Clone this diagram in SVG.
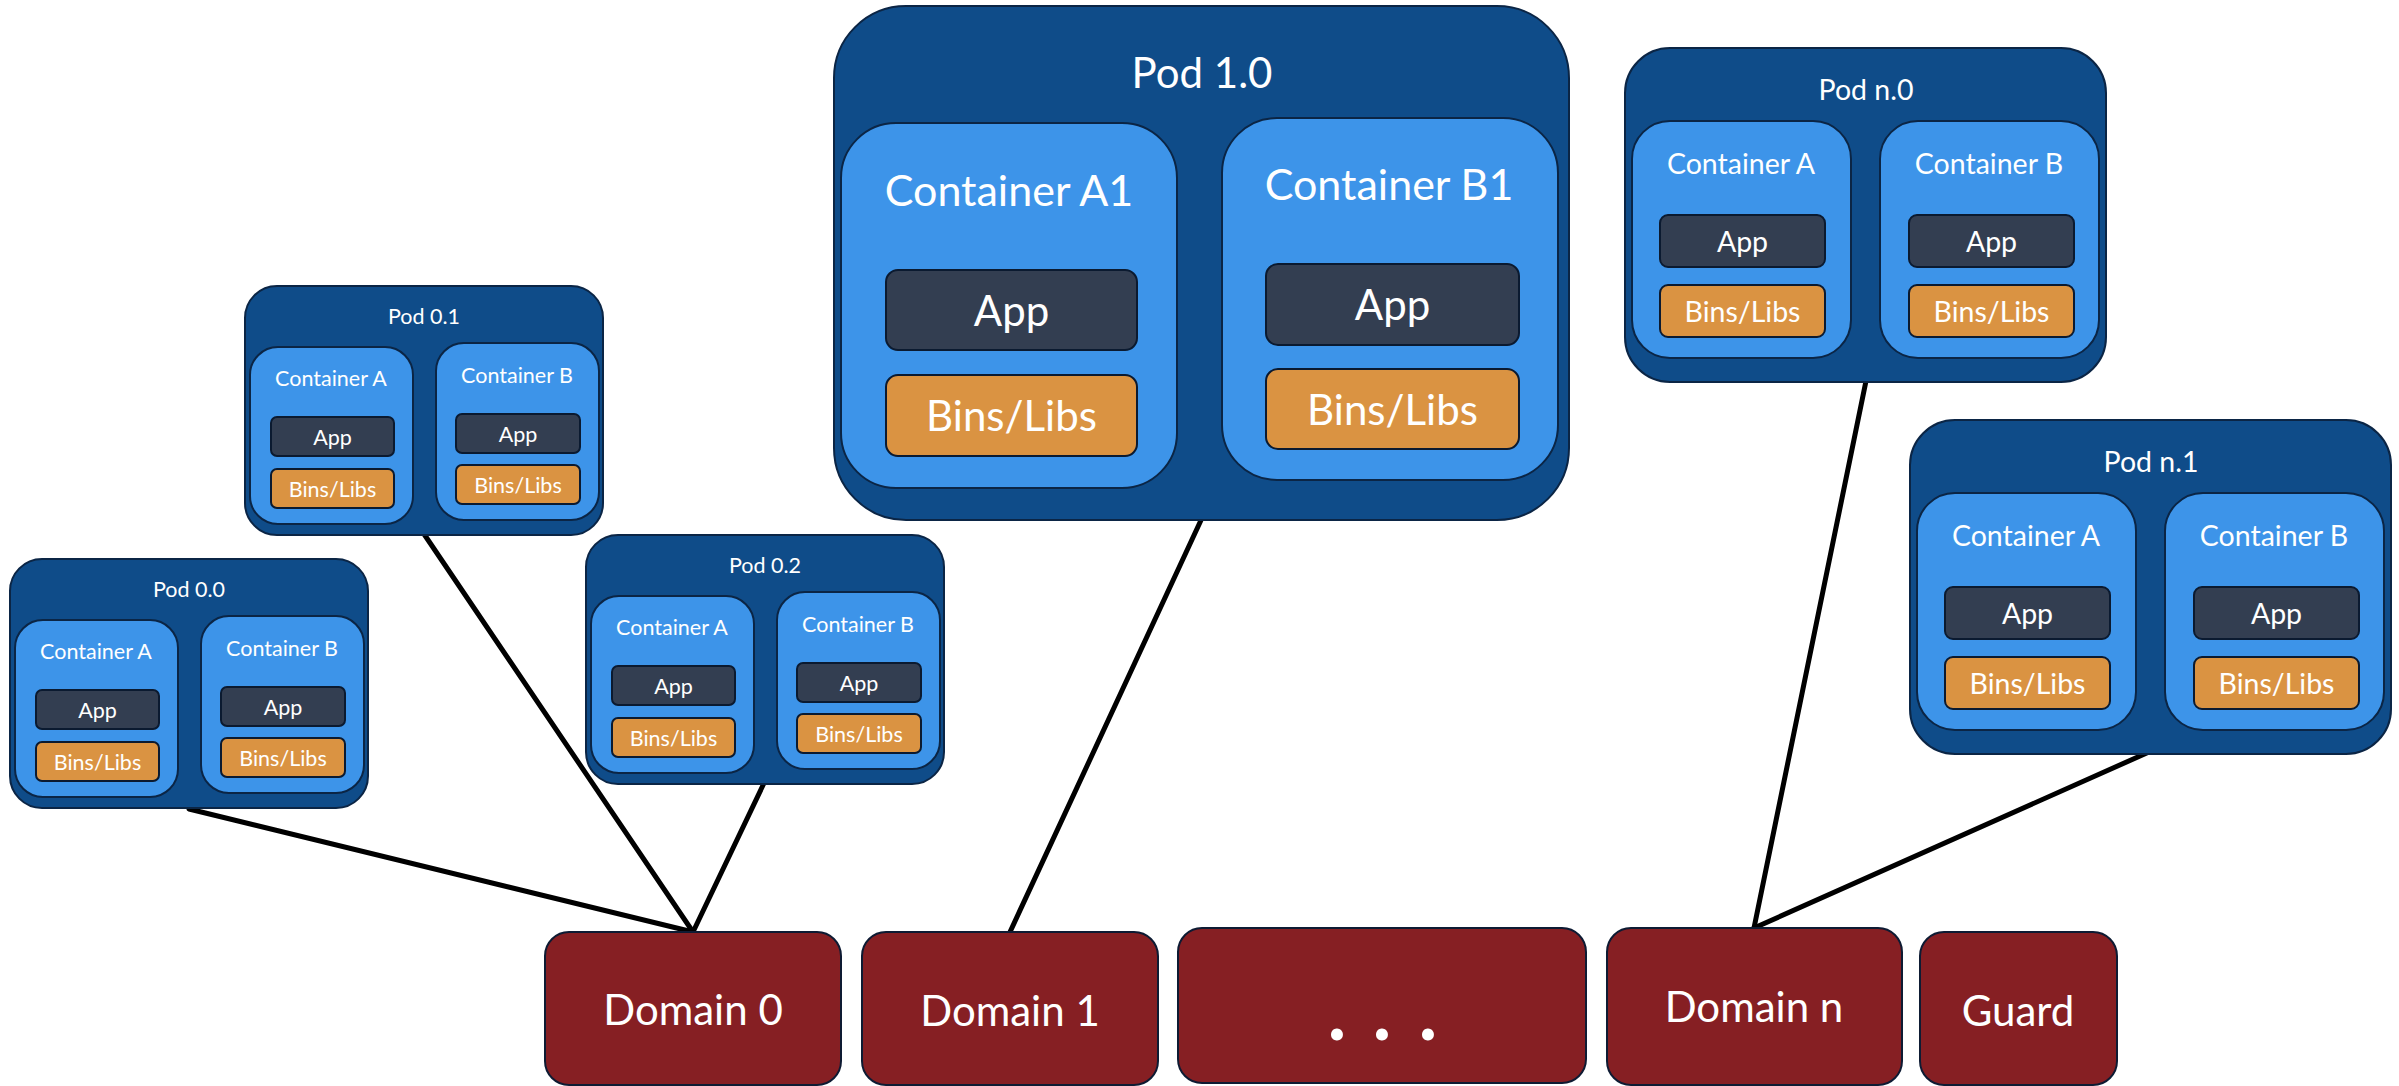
<svg xmlns="http://www.w3.org/2000/svg" width="2399" height="1086" viewBox="0 0 2399 1086">
  <style>
    .pod { fill: #0F4C89; stroke: #0B2545; stroke-width: 2; }
    .ctr { fill: #3D94E9; stroke: #0B2545; stroke-width: 2; }
    .app { fill: #333E51; stroke: #0B1A30; stroke-width: 2; }
    .bins { fill: #DA9342; stroke: #0B1A30; stroke-width: 2; }
    .dom { fill: #861F23; stroke: #0E1B33; stroke-width: 2; }
    .wire { stroke: #000; stroke-width: 5; fill: none; stroke-linecap: round; }
    text { font-family: Lato, "Open Sans", "Liberation Sans", sans-serif; fill: #FFFFFF; text-anchor: middle; }
    .s { font-size: 21.5px; }
    .m { font-size: 28.5px; }
    .l { font-size: 42px; }
    .xl { font-size: 43px; }
  </style>
  <rect width="2399" height="1086" fill="#FFFFFF"/>

  <!-- connectors: pods to their domains -->
  <g id="connectors">
    <line class="wire" x1="189" y1="809" x2="693" y2="932"/>
    <line class="wire" x1="424" y1="534" x2="693" y2="932"/>
    <line class="wire" x1="765" y1="781" x2="693" y2="932"/>
    <line class="wire" x1="1202" y1="518" x2="1010" y2="932"/>
    <line class="wire" x1="1866" y1="381" x2="1754" y2="928"/>
    <line class="wire" x1="2149" y1="752" x2="1754" y2="928"/>
  </g>

  <!-- small pods (domain 0) -->
  <g id="pod-0-1" transform="translate(245,286)">
    <rect class="pod" x="0" y="0" width="358" height="249" rx="32"/>
    <text class="s" x="179" y="38">Pod 0.1</text>
    <rect class="ctr" x="5" y="61" width="163" height="177" rx="28"/>
    <text class="s" x="86" y="100">Container A</text>
    <rect class="app" x="26" y="131" width="123" height="39" rx="6"/>
    <text class="s" x="87.5" y="159">App</text>
    <rect class="bins" x="26" y="183" width="123" height="39" rx="6"/>
    <text class="s" x="87.5" y="211">Bins/Libs</text>
    <rect class="ctr" x="191" y="57" width="163" height="177" rx="28"/>
    <text class="s" x="272" y="97">Container B</text>
    <rect class="app" x="211" y="128" width="124" height="39" rx="6"/>
    <text class="s" x="273" y="156">App</text>
    <rect class="bins" x="211" y="179" width="124" height="39" rx="6"/>
    <text class="s" x="273" y="207">Bins/Libs</text>
  </g>

  <g id="pod-0-0" transform="translate(10,559)">
    <rect class="pod" x="0" y="0" width="358" height="249" rx="32"/>
    <text class="s" x="179" y="38">Pod 0.0</text>
    <rect class="ctr" x="5" y="61" width="163" height="177" rx="28"/>
    <text class="s" x="86" y="100">Container A</text>
    <rect class="app" x="26" y="131" width="123" height="39" rx="6"/>
    <text class="s" x="87.5" y="159">App</text>
    <rect class="bins" x="26" y="183" width="123" height="39" rx="6"/>
    <text class="s" x="87.5" y="211">Bins/Libs</text>
    <rect class="ctr" x="191" y="57" width="163" height="177" rx="28"/>
    <text class="s" x="272" y="97">Container B</text>
    <rect class="app" x="211" y="128" width="124" height="39" rx="6"/>
    <text class="s" x="273" y="156">App</text>
    <rect class="bins" x="211" y="179" width="124" height="39" rx="6"/>
    <text class="s" x="273" y="207">Bins/Libs</text>
  </g>

  <g id="pod-0-2" transform="translate(586,535)">
    <rect class="pod" x="0" y="0" width="358" height="249" rx="32"/>
    <text class="s" x="179" y="38">Pod 0.2</text>
    <rect class="ctr" x="5" y="61" width="163" height="177" rx="28"/>
    <text class="s" x="86" y="100">Container A</text>
    <rect class="app" x="26" y="131" width="123" height="39" rx="6"/>
    <text class="s" x="87.5" y="159">App</text>
    <rect class="bins" x="26" y="183" width="123" height="39" rx="6"/>
    <text class="s" x="87.5" y="211">Bins/Libs</text>
    <rect class="ctr" x="191" y="57" width="163" height="177" rx="28"/>
    <text class="s" x="272" y="97">Container B</text>
    <rect class="app" x="211" y="128" width="124" height="39" rx="6"/>
    <text class="s" x="273" y="156">App</text>
    <rect class="bins" x="211" y="179" width="124" height="39" rx="6"/>
    <text class="s" x="273" y="207">Bins/Libs</text>
  </g>

  <!-- large pod (domain 1) -->
  <g id="pod-1-0">
    <rect class="pod" x="834" y="6" width="735" height="514" rx="72"/>
    <text class="l" x="1202" y="88">Pod 1.0</text>
    <rect class="ctr" x="841" y="123" width="336" height="365" rx="55"/>
    <text class="xl" x="1009" y="206">Container A1</text>
    <rect class="app" x="886" y="270" width="251" height="80" rx="12"/>
    <text class="l" x="1011.5" y="326">App</text>
    <rect class="bins" x="886" y="375" width="251" height="81" rx="12"/>
    <text class="l" x="1011.5" y="431">Bins/Libs</text>
    <rect class="ctr" x="1222" y="118" width="336" height="362" rx="55"/>
    <text class="xl" x="1389" y="200">Container B1</text>
    <rect class="app" x="1266" y="264" width="253" height="81" rx="12"/>
    <text class="l" x="1392.5" y="320">App</text>
    <rect class="bins" x="1266" y="369" width="253" height="80" rx="12"/>
    <text class="l" x="1392.5" y="425">Bins/Libs</text>
  </g>

  <!-- medium pods (domain n) -->
  <g id="pod-n-0" transform="translate(1625,48)">
    <rect class="pod" x="0" y="0" width="481" height="334" rx="45"/>
    <text class="m" x="241" y="52">Pod n.0</text>
    <rect class="ctr" x="7" y="73" width="219" height="237" rx="38"/>
    <text class="m" x="116" y="126">Container A</text>
    <rect class="app" x="35" y="167" width="165" height="52" rx="8"/>
    <text class="m" x="117.5" y="204">App</text>
    <rect class="bins" x="35" y="237" width="165" height="52" rx="8"/>
    <text class="m" x="117.5" y="274">Bins/Libs</text>
    <rect class="ctr" x="255" y="73" width="219" height="237" rx="38"/>
    <text class="m" x="364" y="126">Container B</text>
    <rect class="app" x="284" y="167" width="165" height="52" rx="8"/>
    <text class="m" x="366.5" y="204">App</text>
    <rect class="bins" x="284" y="237" width="165" height="52" rx="8"/>
    <text class="m" x="366.5" y="274">Bins/Libs</text>
  </g>

  <g id="pod-n-1" transform="translate(1910,420)">
    <rect class="pod" x="0" y="0" width="481" height="334" rx="45"/>
    <text class="m" x="241" y="52">Pod n.1</text>
    <rect class="ctr" x="7" y="73" width="219" height="237" rx="38"/>
    <text class="m" x="116" y="126">Container A</text>
    <rect class="app" x="35" y="167" width="165" height="52" rx="8"/>
    <text class="m" x="117.5" y="204">App</text>
    <rect class="bins" x="35" y="237" width="165" height="52" rx="8"/>
    <text class="m" x="117.5" y="274">Bins/Libs</text>
    <rect class="ctr" x="255" y="73" width="219" height="237" rx="38"/>
    <text class="m" x="364" y="126">Container B</text>
    <rect class="app" x="284" y="167" width="165" height="52" rx="8"/>
    <text class="m" x="366.5" y="204">App</text>
    <rect class="bins" x="284" y="237" width="165" height="52" rx="8"/>
    <text class="m" x="366.5" y="274">Bins/Libs</text>
  </g>

  <!-- domains -->
  <g id="domain-0">
    <rect class="dom" x="545" y="932" width="296" height="153" rx="24"/>
    <text class="l" x="693" y="1025">Domain 0</text>
  </g>
  <g id="domain-1">
    <rect class="dom" x="862" y="932" width="296" height="153" rx="24"/>
    <text class="l" x="1010" y="1026">Domain 1</text>
  </g>
  <g id="domain-ellipsis">
    <rect class="dom" x="1178" y="928" width="408" height="155" rx="24"/>
    <text style="font-size:95px" x="1337 1359 1382 1405 1428" y="1040">. . .</text>
  </g>
  <g id="domain-n">
    <rect class="dom" x="1607" y="928" width="295" height="157" rx="24"/>
    <text class="l" x="1754" y="1022">Domain n</text>
  </g>
  <g id="guard">
    <rect class="dom" x="1920" y="932" width="197" height="153" rx="24"/>
    <text class="l" x="2018" y="1026">Guard</text>
  </g>
</svg>
